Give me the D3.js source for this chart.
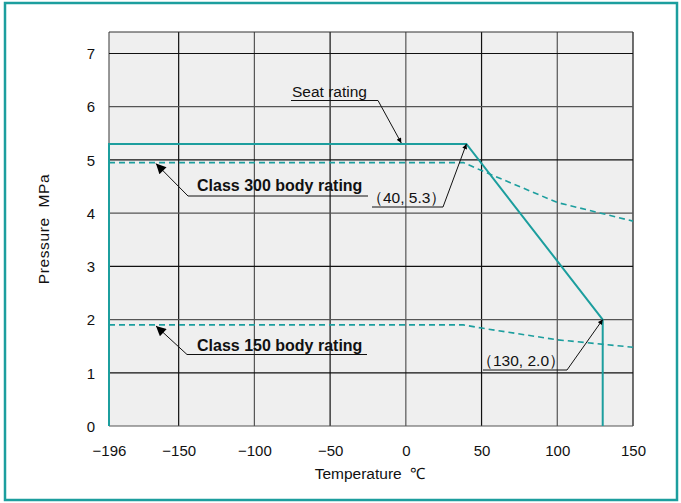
<!DOCTYPE html>
<html><head><meta charset="utf-8">
<script src="https://cdn.jsdelivr.net/npm/d3@7"></script>
<style>html,body{margin:0;padding:0;background:#fff;}svg{display:block;font-family:"Liberation Sans",Arial,Helvetica,sans-serif;}</style>
</head><body>
<script>
const xTicks = [-196, -150, -100, -50, 0, 50, 100, 150];
const yTicks = [0, 1, 2, 3, 4, 5, 6, 7];
const seatTemp = [-196, -196, 40, 130, 130];
const seatPress = [0, 5.3, 5.3, 2.0, 0];
const c300Temp = [-196, 38, 50, 100, 150];
const c300Press = [4.95, 4.95, 4.8, 4.2, 3.85];
const c150Temp = [-196, 38, 50, 100, 150];
const c150Press = [1.9, 1.9, 1.84, 1.62, 1.48];
const xLabel = "Temperature \u00a0\u2103";
const yLabel = "Pressure\u00a0\u00a0MPa";

const W = 681, H = 503;
const teal = "#1c9e9e";
const FONT = "Liberation Sans, Arial, Helvetica, sans-serif";
const svg = d3.select("body").append("svg").attr("width", W).attr("height", H);

svg.append("rect").attr("x", 5).attr("y", 3).attr("width", 672).attr("height", 497)
  .attr("fill", "#fff").attr("stroke", teal).attr("stroke-width", 2.5);

const x = d3.scaleLinear().domain([-196, 150]).range([109, 633]);
const y = d3.scaleLinear().domain([0, 7]).range([426, 53.5]);
const yTop = 32;

svg.append("rect").attr("x", x(-196)).attr("y", yTop).attr("width", x(150) - x(-196)).attr("height", y(0) - yTop)
  .attr("fill", "#efefef");

const grid = svg.append("g");
xTicks.forEach((t, i) => {
  grid.append("line").attr("x1", x(t)).attr("x2", x(t)).attr("y1", yTop).attr("y2", y(0))
    .attr("stroke", i % 2 ? "#111" : "#555").attr("stroke-width", 1.2);
});
yTicks.forEach((t, i) => {
  grid.append("line").attr("x1", x(-196)).attr("x2", x(150)).attr("y1", y(t)).attr("y2", y(t))
    .attr("stroke", i % 2 ? "#111" : "#555").attr("stroke-width", 1.2);
});
grid.append("line").attr("x1", x(-196)).attr("x2", x(150)).attr("y1", yTop).attr("y2", yTop)
  .attr("stroke", "#333").attr("stroke-width", 1.2);

// axes (tick labels only)
const xAxis = d3.axisBottom(x).tickValues(xTicks).tickSize(0).tickPadding(0)
  .tickFormat(d => d < 0 ? "\u2212" + Math.abs(d) : String(d));
const gx = svg.append("g").attr("transform", `translate(0,${y(0)})`).call(xAxis);
gx.select(".domain").remove();
gx.selectAll("text").attr("y", 30).attr("dy", 0).attr("font-size", 15).attr("fill", "#111")
  .attr("font-family", FONT);

const yAxis = d3.axisLeft(y).tickValues(yTicks).tickSize(0).tickPadding(0).tickFormat(d3.format("d"));
const gy = svg.append("g").attr("transform", `translate(${x(-196)},0)`).call(yAxis);
gy.select(".domain").remove();
gy.selectAll("text").attr("x", -14).attr("dy", "0.35em").attr("font-size", 15).attr("fill", "#111")
  .attr("font-family", FONT);

svg.append("text").attr("x", 370).attr("y", 479).attr("text-anchor", "middle")
  .attr("font-size", 15.5).attr("fill", "#111").text(xLabel);
svg.append("text").attr("transform", "translate(49,229) rotate(-90)").attr("text-anchor", "middle")
  .attr("font-size", 15.5).attr("fill", "#111").attr("letter-spacing", 0.6).text(yLabel);

const line = d3.line().x(d => x(d[0])).y(d => y(d[1]));
const zip = (a, b) => a.map((v, i) => [v, b[i]]);

svg.append("path").datum(zip(c300Temp, c300Press)).attr("d", line)
  .attr("fill", "none").attr("stroke", teal).attr("stroke-width", 1.6).attr("stroke-dasharray", "6,4");
svg.append("path").datum(zip(c150Temp, c150Press)).attr("d", line)
  .attr("fill", "none").attr("stroke", teal).attr("stroke-width", 1.6).attr("stroke-dasharray", "6,4");
svg.append("path").datum(zip(seatTemp, seatPress)).attr("d", line)
  .attr("fill", "none").attr("stroke", teal).attr("stroke-width", 2);

// markers
const defs = svg.append("defs");
defs.append("marker").attr("id", "big").attr("viewBox", "0 0 10 10").attr("refX", 10).attr("refY", 5)
  .attr("markerWidth", 14).attr("markerHeight", 10).attr("markerUnits", "userSpaceOnUse").attr("orient", "auto")
  .append("path").attr("d", "M0,0 L10,5 L0,10 Z").attr("fill", "#000");
defs.append("marker").attr("id", "small").attr("viewBox", "0 0 10 10").attr("refX", 10).attr("refY", 5)
  .attr("markerWidth", 7).attr("markerHeight", 5).attr("markerUnits", "userSpaceOnUse").attr("orient", "auto")
  .append("path").attr("d", "M0,0 L10,5 L0,10 Z").attr("fill", "#000");

function annot(text, tx, ty, ux1, ux2, uy, tip) {
  svg.append("text").attr("x", tx).attr("y", ty).attr("font-size", 16)
    .attr("font-weight", "bold").attr("fill", "#111").text(text);
  svg.append("path").attr("d", `M${ux2},${uy} L${ux1},${uy} L${tip[0]},${tip[1]}`)
    .attr("fill", "none").attr("stroke", "#111").attr("stroke-width", 1)
    .attr("marker-end", "url(#big)");
}
function annotR(text, tx, ty, ux1, ux2, uy, tip) {
  svg.append("text").attr("x", tx).attr("y", ty).attr("font-size", 15.5).attr("fill", "#111").text(text);
  svg.append("path").attr("d", `M${ux1},${uy} L${ux2},${uy} L${tip[0]},${tip[1]}`)
    .attr("fill", "none").attr("stroke", "#111").attr("stroke-width", 1)
    .attr("marker-end", "url(#small)");
}
// Seat rating
annotR("Seat rating", 292, 97, 291, 378, 100.5, [x(-3), y(5.3) - 1]);
// Class 300
annot("Class 300 body rating", 197, 191, 188, 368, 196, [x(-165), y(4.95) + 1]);
// Class 150
annot("Class 150 body rating", 197, 351, 187, 367, 354.5, [x(-165), y(1.9) + 1]);
// (40, 5.3)
annotR("\uff0840, 5.3\uff09", 367, 203, 372, 443, 207, [x(40), y(5.3)]);
// (130, 2.0)
annotR("\uff08130, 2.0\uff09", 477, 366, 483, 567, 370, [x(130), y(2.0)]);
</script>
</body></html>
